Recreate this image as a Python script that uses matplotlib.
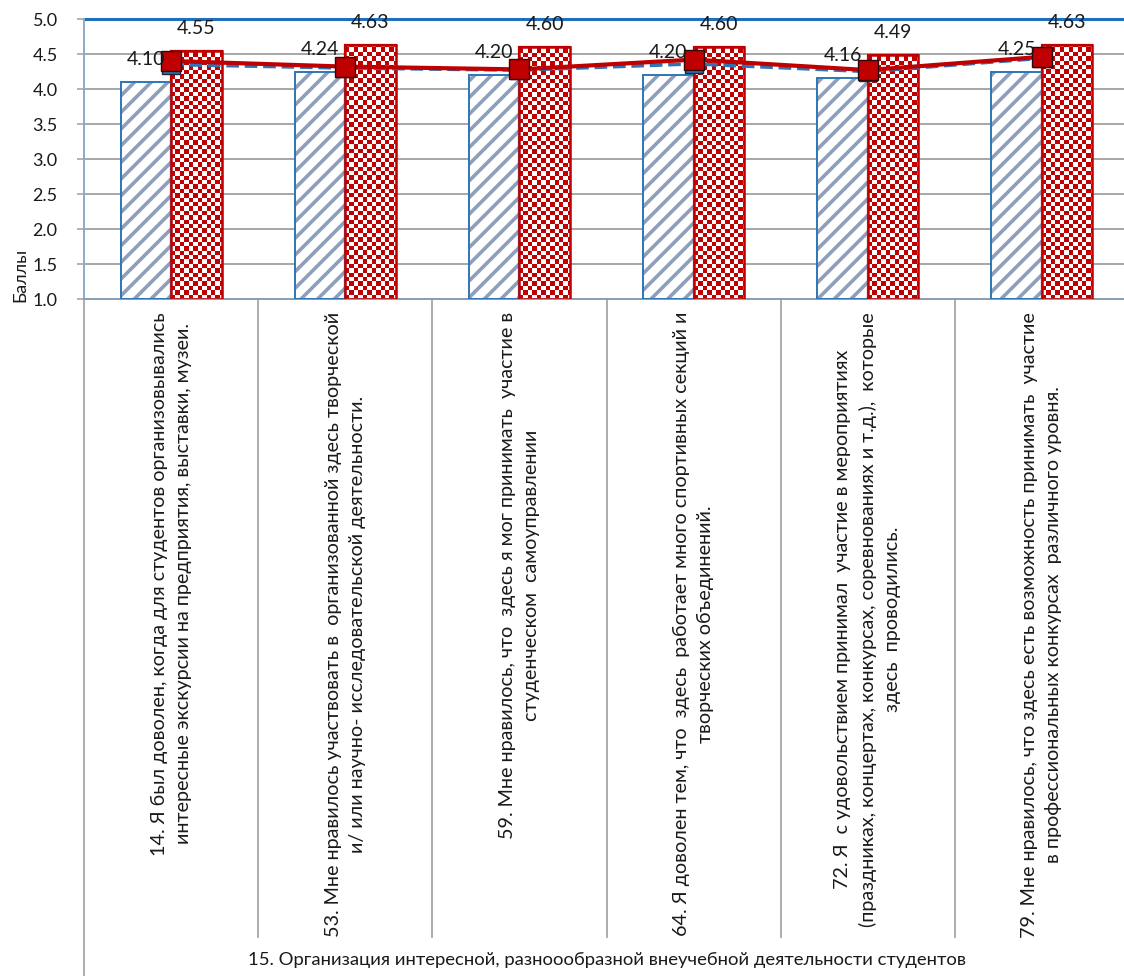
import numpy as np
import matplotlib
matplotlib.use("Agg")
import matplotlib.pyplot as plt
from matplotlib.transforms import blended_transform_factory

plt.rcParams['font.family'] = ['Lato', 'DejaVu Sans']

categories = [
    "14. Я был доволен, когда для студентов организовывались\nинтересные экскурсии на предприятия, выставки, музеи.",
    "53. Мне нравилось участвовать в  организованной здесь творческой\nи/ или научно- исследовательской деятельности.",
    "59. Мне нравилось, что  здесь я мог принимать  участие в\nстуденческом  самоуправлении",
    "64. Я доволен тем, что  здесь  работает много спортивных секций и\nтворческих объединений.",
    "72. Я  с удовольствием принимал  участие в мероприятиях\n(праздниках, концертах, конкурсах, соревнованиях и т.д.),  которые\nздесь  проводились.",
    "79. Мне нравилось, что здесь есть возможность принимать  участие\nв профессиональных конкурсах  различного уровня.",
]
group_label = "15. Организация интересной, разноообразной внеучебной деятельности студентов"
bar_blue = [4.10, 4.24, 4.20, 4.20, 4.16, 4.25]
bar_red = [4.55, 4.63, 4.60, 4.60, 4.49, 4.63]
line_blue = [4.35, 4.30, 4.27, 4.36, 4.25, 4.44]
line_red = [4.40, 4.32, 4.28, 4.42, 4.27, 4.46]
y_ticks = [1.0, 1.5, 2.0, 2.5, 3.0, 3.5, 4.0, 4.5, 5.0]
y_label = "Баллы"

W, H = 1124, 976
fig = plt.figure(figsize=(W / 100, H / 100), dpi=100)
ax_l, ax_r, ax_t, ax_b = 84, 1129, 19, 299
ax = fig.add_axes([ax_l / W, 1 - ax_b / H, (ax_r - ax_l) / W, (ax_b - ax_t) / H])

n = len(categories)
x = np.arange(n)
bw = 0.29
ymin, ymax = 1.0, 5.0
ax.set_xlim(-0.5, n - 0.5)
ax.set_ylim(ymin, ymax)

# gridlines
for yt in y_ticks[1:-1]:
    ax.axhline(yt, color='#A6A6A6', lw=1.4, zorder=0)
ax.axhline(5.0, color='#1F6FBF', lw=2.2, zorder=1, clip_on=False)

# blue hatched bars
plt.rcParams['hatch.linewidth'] = 2.6
ax.bar(x - bw / 2, [b - ymin for b in bar_blue], bw, bottom=ymin, facecolor='white',
       edgecolor='#8E9FBB', hatch='//', lw=0, zorder=2)
ax.bar(x - bw / 2, [b - ymin for b in bar_blue], bw, bottom=ymin, facecolor='none',
       edgecolor='#2E75B6', lw=1.4, zorder=3)

# red checkered bars
red_bars = ax.bar(x + bw / 2, [b - ymin for b in bar_red], bw, bottom=ymin, facecolor='white',
                  edgecolor='#C00000', lw=1.6, zorder=2)
cell_px = 4.4
dx = cell_px * (n) / (ax_r - ax_l)
dy = cell_px * (ymax - ymin) / (ax_b - ax_t)
for rect in red_bars:
    x0 = rect.get_x()
    y0 = rect.get_y()
    w = rect.get_width()
    h = rect.get_height()
    nx = int(np.ceil(w / dx))
    ny = int(np.ceil(h / dy))
    ii, jj = np.meshgrid(np.arange(nx), np.arange(ny))
    board = ((ii + jj) % 2).astype(float)
    img = np.zeros((ny, nx, 3))
    red = np.array([0xC0, 0x00, 0x00]) / 255.0
    img[board == 0] = red
    img[board == 1] = [1, 1, 1]
    im = ax.imshow(img, extent=[x0, x0 + nx * dx, y0, y0 + ny * dy], origin='lower',
                   interpolation='nearest', aspect='auto', zorder=2.5)
    im.set_clip_path(rect)
ax.bar(x + bw / 2, [b - ymin for b in bar_red], bw, bottom=ymin, facecolor='none',
       edgecolor='#C00000', lw=1.8, zorder=3)
ax.set_xlim(-0.5, n - 0.5)
ax.set_ylim(ymin, ymax)

# value labels
for xi, v in zip(x, bar_blue):
    ax.annotate(f"{v:.2f}", (xi - bw / 2, v), xytext=(0, 16), textcoords='offset points',
                ha='center', va='center', fontsize=14, color='#1a1a1a', zorder=6)
for xi, v in zip(x, bar_red):
    ax.annotate(f"{v:.2f}", (xi + bw / 2, v), xytext=(0, 16), textcoords='offset points',
                ha='center', va='center', fontsize=14, color='#1a1a1a', zorder=6)

# lines
ax.plot(x, line_blue, color='#2E75B6', lw=2.6, ls=(0, (3.5, 1.6)), marker='s', ms=13.5,
        markerfacecolor='#2E75B6', markeredgecolor='#1a2a3a', markeredgewidth=1.0, zorder=4)
ax.plot(x, line_red, color='#C00000', lw=3.0, marker='s', ms=14,
        markerfacecolor='#C00000', markeredgecolor='#2a0a0a', markeredgewidth=1.0, zorder=5)

# axes styling
for s in ['top', 'right']:
    ax.spines[s].set_visible(False)
ax.spines['left'].set_color('#8EA9C8')
ax.spines['left'].set_linewidth(1.4)
ax.spines['bottom'].set_color('#8A9BB0')
ax.spines['bottom'].set_linewidth(1.4)
ax.set_yticks(y_ticks)
ax.set_yticklabels([f"{t:.1f}" for t in y_ticks], fontsize=13, color='#1a1a1a')
ax.tick_params(axis='y', length=5, color='#A6A6A6', width=1.2, pad=14)
ax.set_xticks([])

trans = blended_transform_factory(ax.transData, ax.transAxes)
sep_bottom = -(937 - ax_b) / (ax_b - ax_t)
full_bottom = -(H - ax_b) / (ax_b - ax_t)
for b in np.arange(0.5, n - 0.5, 1.0):
    ax.plot([b, b], [0, sep_bottom], transform=trans, color='#A6A6A6', lw=1.3, clip_on=False)
ax.plot([-0.5, -0.5], [0, full_bottom], transform=trans, color='#A6A6A6', lw=1.3, clip_on=False)

label_top = -(312 - ax_b) / (ax_b - ax_t)
for xi, lab in zip(x, categories):
    ax.text(xi, label_top, lab, transform=trans, rotation=90, ha='center', va='top',
            multialignment='center', fontsize=14.2, color='#1a1a1a', linespacing=1.5)

fig.text((ax_l + ax_r) / 2 / W, 1 - 960 / H, group_label, ha='center', va='center',
         fontsize=13.3, color='#1a1a1a')
fig.text(20 / W, 1 - 275 / H, y_label, rotation=90, ha='center', va='center',
         fontsize=13, color='#1a1a1a')

fig.savefig("out.png", dpi=100)
